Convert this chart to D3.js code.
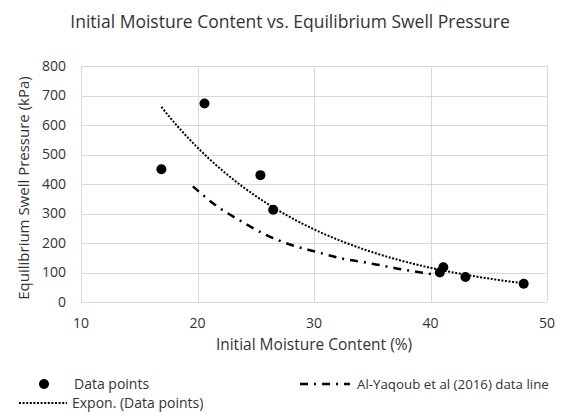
<!DOCTYPE html>
<html>
<head>
<meta charset="utf-8">
<script src="https://cdn.jsdelivr.net/npm/d3@7"></script>
<style>
  body { margin: 0; background: #fff; }
  text { font-family: "Open Sans", "Noto Sans", sans-serif; fill: #333333; }
</style>
</head>
<body>
<svg id="chart" width="570" height="418"></svg>
<script>
// ---- data ----
const moisture = [16.9, 20.6, 25.4, 26.5, 40.8, 41.1, 43.0, 48.0];
const swellPressure = [450, 673, 430, 313, 100, 118, 85, 62];
const yaqoubMoisture = [19.6, 21.8, 23.7, 25.8, 28.0, 30.0, 32.7, 35.0, 37.2, 39.7, 40.1];
const yaqoubPressure = [392, 321, 275, 229, 194, 172, 145, 130, 113, 97, 94];
const xTicks = [10, 20, 30, 40, 50];
const yTicks = [0, 100, 200, 300, 400, 500, 600, 700, 800];
const titleText = "Initial Moisture Content vs. Equilibrium Swell Pressure";
const xTitle = "Initial Moisture Content (%)";
const yTitle = "Equilibrium Swell Pressure (kPa)";
const legendLabels = ["Data points", "Al-Yaqoub et al (2016) data line", "Expon. (Data points)"];

const svg = d3.select("#chart");
const x = d3.scaleLinear().domain([10, 50]).range([81, 547]);
const y = d3.scaleLinear().domain([0, 800]).range([302, 66]);

// gridlines
svg.append("g").selectAll("line.h").data(yTicks).join("line")
  .attr("x1", x(10)).attr("x2", x(50))
  .attr("y1", d => Math.round(y(d)) + 0.5).attr("y2", d => Math.round(y(d)) + 0.5)
  .attr("stroke", "#d9d9d9").attr("stroke-width", 1);
svg.append("g").selectAll("line.v").data(xTicks).join("line")
  .attr("y1", y(0)).attr("y2", y(800))
  .attr("x1", d => Math.round(x(d)) + 0.5).attr("x2", d => Math.round(x(d)) + 0.5)
  .attr("stroke", "#d9d9d9").attr("stroke-width", 1);

// tick labels
svg.append("g").selectAll("text").data(yTicks).join("text")
  .attr("x", 66).attr("y", d => y(d)).attr("dy", "0.35em")
  .attr("text-anchor", "end").attr("font-size", 14).text(d => d);
svg.append("g").selectAll("text").data(xTicks).join("text")
  .attr("x", d => x(d)).attr("y", 323.5).attr("dy", "0.35em")
  .attr("text-anchor", "middle").attr("font-size", 14).text(d => d);

// titles
svg.append("text").attr("x", 290).attr("y", 22).attr("dy", "0.35em")
  .attr("text-anchor", "middle").attr("font-size", 17.5).text(titleText);
svg.append("text").attr("x", 314).attr("y", 345).attr("dy", "0.35em")
  .attr("text-anchor", "middle").attr("font-size", 15.5).text(xTitle);
svg.append("text").attr("transform", "translate(24,188) rotate(-90)").attr("dy", "0.35em")
  .attr("text-anchor", "middle").attr("font-size", 15).text(yTitle);

// exponential trend (least squares on ln y)
const lx = moisture, ly = swellPressure.map(v => Math.log(v));
const mx = d3.mean(lx), my = d3.mean(ly);
const b = d3.sum(lx, (v, i) => (v - mx) * (ly[i] - my)) / d3.sum(lx, v => (v - mx) * (v - mx));
const a = Math.exp(my - b * mx);
const [xmin, xmax] = d3.extent(moisture);
const trendPts = d3.range(0, 101).map(i => { const xv = xmin + (xmax - xmin) * i / 100; return [xv, a * Math.exp(b * xv)]; });
const line = d3.line().x(d => x(d[0])).y(d => y(d[1]));
svg.append("path").attr("d", line(trendPts)).attr("fill", "none")
  .attr("stroke", "#000").attr("stroke-width", 2).attr("stroke-dasharray", "2,1.6");

// Al-Yaqoub line
const yaq = yaqoubMoisture.map((v, i) => [v, yaqoubPressure[i]]);
svg.append("path").attr("d", d3.line().curve(d3.curveMonotoneX).x(d => x(d[0])).y(d => y(d[1]))(yaq))
  .attr("fill", "none").attr("stroke", "#000").attr("stroke-width", 2.5)
  .attr("stroke-dasharray", "8,6,2,6");

// data points
svg.append("g").selectAll("circle").data(moisture).join("circle")
  .attr("cx", d => x(d)).attr("cy", (d, i) => y(swellPressure[i])).attr("r", 5).attr("fill", "#000");

// legend
const lg = svg.append("g");
lg.append("circle").attr("cx", 44).attr("cy", 384).attr("r", 5).attr("fill", "#000");
lg.append("text").attr("x", 74).attr("y", 384).attr("dy", "0.35em").attr("font-size", 14).text(legendLabels[0]);
lg.append("line").attr("x1", 300).attr("x2", 350).attr("y1", 384).attr("y2", 384)
  .attr("stroke", "#000").attr("stroke-width", 2.5).attr("stroke-dasharray", "8,6,2,6");
lg.append("text").attr("x", 357).attr("y", 384).attr("dy", "0.35em").attr("font-size", 13.3).text(legendLabels[1]);
lg.append("line").attr("x1", 19).attr("x2", 67).attr("y1", 403).attr("y2", 403)
  .attr("stroke", "#000").attr("stroke-width", 2).attr("stroke-dasharray", "2,1.6");
lg.append("text").attr("x", 72).attr("y", 403).attr("dy", "0.35em").attr("font-size", 14).text(legendLabels[2]);
</script>
</body>
</html>
